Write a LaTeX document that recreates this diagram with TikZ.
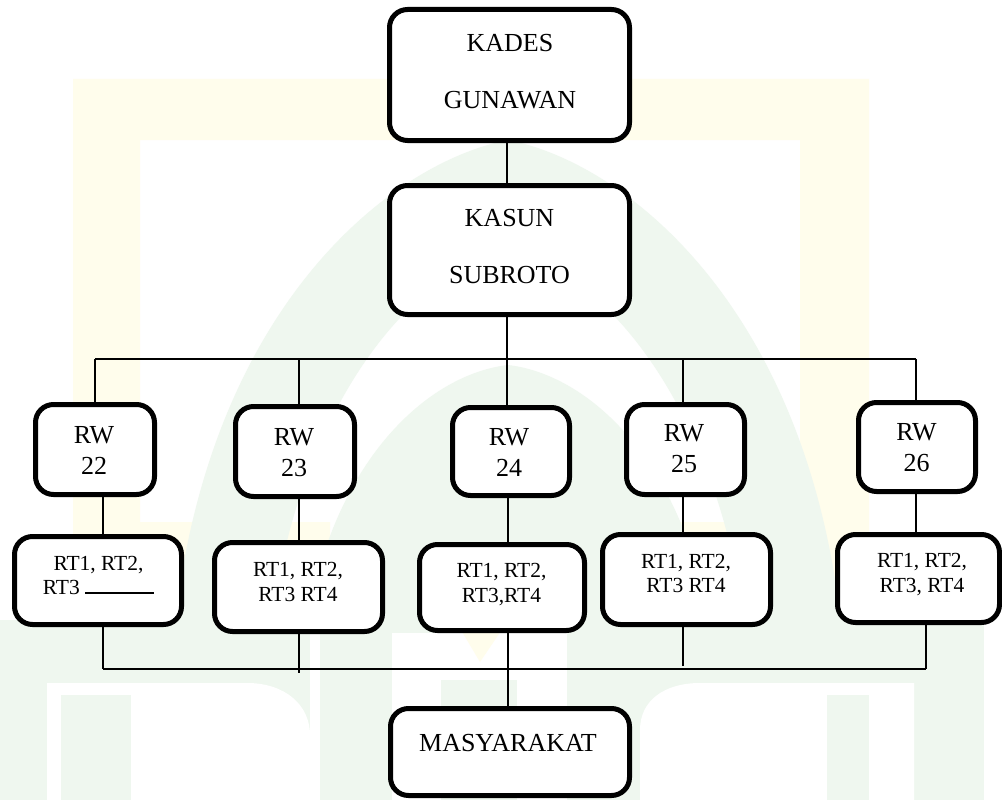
\documentclass[tikz,border=0pt]{standalone}
\usepackage{fontspec}
\setmainfont{Liberation Serif}
\definecolor{wmgreen}{RGB}{239,247,239}
\definecolor{wmyellow}{RGB}{255,253,236}
\begin{document}
\begin{tikzpicture}[x=1pt,y=-1pt,
  box/.style={draw=black, line width=5pt, rounded corners=18pt, fill=white, inner sep=0pt},
  conn/.style={draw=black, line width=1.6pt},
  bigtxt/.style={inner sep=0pt, align=center, font=\fontsize{26}{57}\selectfont},
  rwtxt/.style={inner sep=0pt, align=center, font=\fontsize{26}{31}\selectfont},
  rttxt/.style={inner sep=0pt, align=center, font=\fontsize{21.5}{24.5}\selectfont}]
\useasboundingbox (0,0) rectangle (1002,800);
\fill[white] (0,0) rectangle (1002,800);
% faint watermark
\fill[wmyellow] (73,79) -- (869,79) -- (869,583) -- (623,583) -- (623,522) -- (800,522)
  -- (800,140) -- (140,140) -- (140,522) -- (330,522) -- (330,583) -- (73,583) -- cycle;
\fill[wmgreen, even odd rule]
  (170,690) .. controls (185,330) and (380,165) .. (508,140)
  .. controls (636,165) and (831,330) .. (846,690) -- cycle
  (265,690) .. controls (280,420) and (410,270) .. (508,250)
  .. controls (606,270) and (736,420) .. (751,690) -- cycle;
\fill[wmgreen] (300,690) .. controls (310,480) and (420,375) .. (508,365)
  .. controls (596,375) and (706,480) .. (716,690) -- cycle;
\fill[wmgreen] (0,620) rectangle (984,800);
\fill[white] (47,800) -- (47,683) -- (247,683) .. controls (285,683) and (310,705) .. (310,735)
  -- (310,800) -- cycle;
\fill[white] (310,633) rectangle (320,800);
\fill[wmgreen] (61,695) rectangle (131,800);
\fill[white] (392,633) rectangle (567,800);
\fill[wmgreen] (441,680) rectangle (517,800);
\fill[wmyellow] (458,625) -- (505,625) -- (480,662) -- cycle;
\fill[white] (640,800) -- (640,730) .. controls (640,700) and (665,683) .. (700,683)
  -- (914,683) -- (914,800) -- cycle;
\fill[wmgreen] (827,695) rectangle (869,800);
% boxes
\node[box, minimum width=240pt, minimum height=131pt] (kades) at (509.5,75) {};
\node[box, minimum width=240pt, minimum height=129pt] (kasun) at (509.5,250) {};
\node[box, minimum width=119pt, minimum height=90pt] (rw22) at (95,449.5) {};
\node[box, minimum width=119pt, minimum height=90pt] (rw23) at (295,451.5) {};
\node[box, minimum width=117pt, minimum height=88pt] (rw24) at (511,451.5) {};
\node[box, minimum width=118pt, minimum height=90pt] (rw25) at (685.5,449.5) {};
\node[box, minimum width=117pt, minimum height=89pt] (rw26) at (917,447) {};
\node[box, minimum width=167pt, minimum height=88pt] (rt22) at (98,580.5) {};
\node[box, minimum width=168pt, minimum height=89pt] (rt23) at (298.5,587) {};
\node[box, minimum width=165pt, minimum height=86pt] (rt24) at (502,587.5) {};
\node[box, minimum width=168pt, minimum height=90pt] (rt25) at (686.5,579.5) {};
\node[box, minimum width=162pt, minimum height=88pt] (rt26) at (918.5,578.5) {};
\node[box, minimum width=239pt, minimum height=87pt] (masy) at (510,752) {};
% texts
\node[bigtxt] (kadest) at (510,71.5) {KADES\\GUNAWAN};
\node[bigtxt] (kasunt) at (509.5,246.5) {KASUN\\SUBROTO};
\node[rwtxt] (rw22t) at (94,450) {RW\\22};
\node[rwtxt] (rw23t) at (294,452.5) {RW\\23};
\node[rwtxt] (rw24t) at (509,452.5) {RW\\24};
\node[rwtxt] (rw25t) at (684,449) {RW\\25};
\node[rwtxt] (rw26t) at (916.5,447.5) {RW\\26};
\node[rttxt] (rt22t) at (98.5,575.5) {RT1, RT2,\\RT3 \rule[1pt]{69pt}{1.6pt}};
\node[rttxt] (rt23t) at (298,582) {RT1, RT2,\\RT3 RT4};
\node[rttxt] (rt24t) at (501.5,584.5) {RT1, RT2,\\RT3,RT4};
\node[rttxt] (rt25t) at (686,573.5) {RT1, RT2,\\RT3 RT4};
\node[rttxt] (rt26t) at (922,574.5) {RT1, RT2,\\RT3, RT4};
\node[bigtxt] (masyt) at (508,743) {MASYARAKAT};
% connector coordinates
\coordinate (mid) at (507,359);
\coordinate (busL) at (95,359);
\coordinate (busR) at (916,359);
\coordinate (d23) at (299,359);
\coordinate (d25) at (683,359);
\coordinate (v22) at (103,669);
\coordinate (v24) at (508,669);
\coordinate (botL) at (103,669);
\coordinate (botR) at (926,669);
\coordinate (e23) at (299,673);
\coordinate (e25) at (683,666);
% connectors
\draw[conn] (kades.south -| mid) -- (kasun.north -| mid);
\draw[conn] (kasun.south -| mid) -- (rw24.north -| mid);
\draw[conn] (busL) -- (busR);
\draw[conn] (busL) -- (rw22.north -| busL);
\draw[conn] (d23) -- (rw23.north -| d23);
\draw[conn] (d25) -- (rw25.north -| d25);
\draw[conn] (busR) -- (rw26.north -| busR);
\draw[conn] (rw22.south -| v22) -- (rt22.north -| v22);
\draw[conn] (rw23.south -| d23) -- (rt23.north -| d23);
\draw[conn] (rw24.south -| v24) -- (rt24.north -| v24);
\draw[conn] (rw25.south -| d25) -- (rt25.north -| d25);
\draw[conn] (rw26.south -| busR) -- (rt26.north -| busR);
\draw[conn] (rt22.south -| botL) -- (botL);
\draw[conn] (rt23.south -| e23) -- (e23);
\draw[conn] (rt24.south -| v24) -- (masy.north -| v24);
\draw[conn] (rt25.south -| e25) -- (e25);
\draw[conn] (rt26.south -| botR) -- (botR);
\draw[conn] (botL) -- (botR);
\end{tikzpicture}
\end{document}
